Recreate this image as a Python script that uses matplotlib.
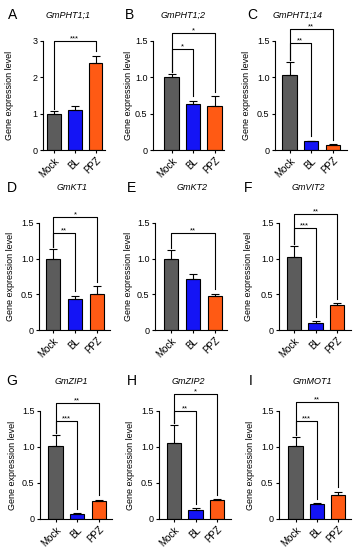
import matplotlib
matplotlib.use("Agg")
import matplotlib.pyplot as plt

plt.rcParams['font.family'] = ['Liberation Sans', 'DejaVu Sans']

GROUPS = ["Mock", "BL", "PPZ"]
COLORS = ["#5c5c5c", "#1414f5", "#ff5a14"]

LETTERS = ["A", "B", "C", "D", "E", "F", "G", "H", "I"]
GENES = ["GmPHT1;1", "GmPHT1;2", "GmPHT1;14", "GmKT1", "GmKT2", "GmVIT2",
         "GmZIP1", "GmZIP2", "GmMOT1"]

MEANS = [
    [1.00, 1.10, 2.40],
    [1.00, 0.63, 0.60],
    [1.03, 0.12, 0.07],
    [1.00, 0.43, 0.51],
    [1.00, 0.71, 0.47],
    [1.02, 0.10, 0.35],
    [1.02, 0.07, 0.25],
    [1.05, 0.13, 0.26],
    [1.01, 0.21, 0.33],
]
ERRS = [
    [0.07, 0.10, 0.20],
    [0.05, 0.05, 0.14],
    [0.18, 0.01, 0.01],
    [0.13, 0.05, 0.10],
    [0.12, 0.07, 0.04],
    [0.16, 0.02, 0.03],
    [0.15, 0.01, 0.02],
    [0.26, 0.02, 0.02],
    [0.13, 0.01, 0.05],
]
YMAX = [3, 1.5, 1.5, 1.5, 1.5, 1.5, 1.5, 1.5, 1.5]
YTICKS = [[0, 1, 2, 3]] + [[0, 0.5, 1.0, 1.5]] * 8
YTICKLABELS = [["0", "1", "2", "3"]] + [["0", "0.5", "1.0", "1.5"]] * 8

# significance: (target index, bracket height, stars)
SIGS = [
    [(2, 3.0, "***")],
    [(1, 1.39, "*"), (2, 1.61, "*")],
    [(1, 1.47, "**"), (2, 1.67, "**")],
    [(1, 1.36, "**"), (2, 1.58, "*")],
    [(2, 1.36, "**")],
    [(1, 1.43, "***"), (2, 1.63, "**")],
    [(1, 1.36, "***"), (2, 1.61, "**")],
    [(1, 1.50, "**"), (2, 1.74, "*")],
    [(1, 1.36, "***"), (2, 1.62, "**")],
]

# layout in pixels: axis left, mock centre, ppz centre, axis right
COLS = [
    (43, 54, 95.5, 105), (153, 171.5, 214.5, 224), (275, 289.5, 333, 347),
    (39, 53, 97, 110), (155, 171, 215, 227), (279, 294, 337, 351),
    (40, 55.5, 99, 112), (159, 174, 217, 231), (279, 295.5, 338, 351),
]
ROWS = [(41, 150), (223, 330), (411, 519)]
YLABEL_X = [14, 133, 251, 15, 133, 253, 17, 135, 255]
LETTER_POS = [(8, 15), (125, 15), (247, 15), (7, 188), (127, 188), (244, 188),
              (6, 381), (127, 381), (249, 381)]
TITLE_POS = [(68, 15), (183, 15), (298, 15), (72, 187), (192, 187), (308, 187),
             (71, 381), (188, 381), (312, 381)]

W, H = 360, 550
fig = plt.figure(figsize=(W / 100, H / 100), dpi=100)

for i in range(9):
    left, mock, ppz, right = COLS[i]
    top, bottom = ROWS[i // 3]
    ax = fig.add_axes([left / W, 1 - bottom / H, (right - left) / W, (bottom - top) / H])
    unit = (ppz - mock) / 2
    x = range(3)
    ax.bar(x, MEANS[i], width=0.66, color=COLORS, edgecolor="black", linewidth=0.8, zorder=2)
    ax.errorbar(x, MEANS[i], yerr=[[0, 0, 0], ERRS[i]], fmt="none", ecolor="black",
                elinewidth=0.8, capsize=3, capthick=0.8, zorder=3)
    ax.set_xlim((left - mock) / unit, (right - mock) / unit)
    ax.set_ylim(0, YMAX[i])
    ax.set_yticks(YTICKS[i])
    ax.set_yticklabels(YTICKLABELS[i], fontsize=6.5)
    ax.set_xticks(list(x))
    ax.set_xticklabels(GROUPS, rotation=45, ha="right", rotation_mode="anchor", fontsize=7)
    ax.tick_params(length=2.5, width=0.8, pad=1.5)
    for s in ["top", "right"]:
        ax.spines[s].set_visible(False)
    for s in ["left", "bottom"]:
        ax.spines[s].set_linewidth(0.8)
    ax.set_ylabel("Gene expression level", fontsize=6.5)
    ax.yaxis.set_label_coords((YLABEL_X[i] - left) / (right - left), 0.5)

    step = YMAX[i] / 1.5 * 0.03
    mock_top = MEANS[i][0] + ERRS[i][0] + step
    for tgt, hy, stars in SIGS[i]:
        tgt_top = MEANS[i][tgt] + ERRS[i][tgt] + 2 * step
        ax.plot([0, 0, tgt, tgt], [mock_top, hy, hy, tgt_top], color="black",
                lw=0.8, clip_on=False, zorder=4)
        ax.annotate(stars, (tgt / 2, hy), xytext=(0, 1.5), textcoords="offset points",
                    ha="center", va="center", fontsize=5.5, annotation_clip=False)

    lx, ly = LETTER_POS[i]
    fig.text(lx / W, 1 - ly / H, LETTERS[i], fontsize=10, ha="left", va="center")
    tx, ty = TITLE_POS[i]
    fig.text(tx / W, 1 - ty / H, GENES[i], fontsize=6.5, style="italic", ha="center", va="center")

fig.savefig("out.png", dpi=100)
